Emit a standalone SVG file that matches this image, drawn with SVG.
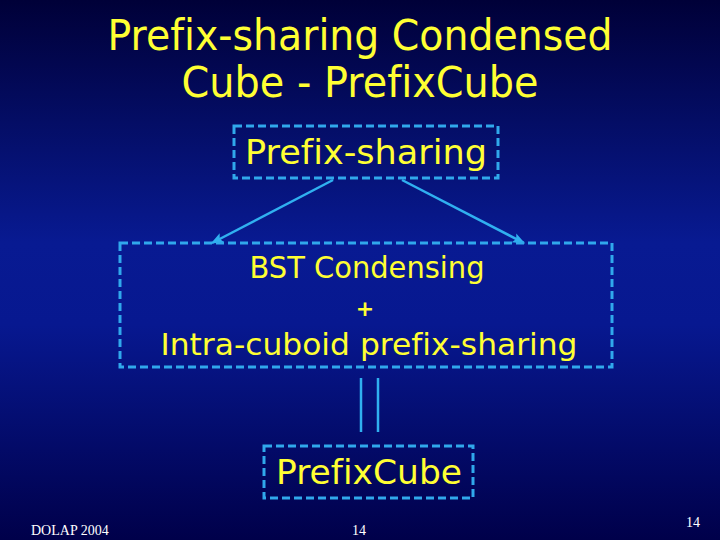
<svg xmlns="http://www.w3.org/2000/svg" width="720" height="540" viewBox="0 0 720 540">
<defs>
<linearGradient id="bg" x1="0" y1="0" x2="0" y2="1">
<stop offset="0" stop-color="#000038"/>
<stop offset="0.45" stop-color="#081a92"/>
<stop offset="0.6" stop-color="#071890"/>
<stop offset="1" stop-color="#00004a"/>
</linearGradient>
<marker id="ah" viewBox="0 0 10 10" refX="9" refY="5" markerWidth="5" markerHeight="5" orient="auto" markerUnits="strokeWidth">
<path d="M0,1 L10,5 L0,9 L2,5 z" fill="#30b0f0"/>
</marker>
<style>
.box{fill:none;stroke:#30a8ec;stroke-width:3;stroke-dasharray:8 4}
.bt{font-family:"DejaVu Sans",sans-serif;fill:#ffff33;text-anchor:middle;font-variant-ligatures:none}
.title{font-family:"DejaVu Sans",sans-serif;fill:#ffff33;font-size:42px;text-anchor:middle;font-variant-ligatures:none}
.conn{stroke:#30b0f0;stroke-width:2.5;fill:none}
.ft{font-family:"Liberation Serif",serif;fill:#ffffff;font-size:14px}
</style>
</defs>
<rect width="720" height="540" fill="url(#bg)"/>
<g id="title">
<text class="title" x="360" y="50" textLength="505" lengthAdjust="spacingAndGlyphs">Prefix-sharing Condensed</text>
<text class="title" x="360" y="97" textLength="357" lengthAdjust="spacingAndGlyphs">Cube - PrefixCube</text>
</g>
<g id="connectors">
<line class="conn" x1="333" y1="180" x2="212" y2="243" marker-end="url(#ah)"/>
<line class="conn" x1="402" y1="180" x2="524" y2="243" marker-end="url(#ah)"/>
<line class="conn" x1="361" y1="378" x2="361" y2="432" stroke-width="3"/>
<line class="conn" x1="378" y1="378" x2="378" y2="432" stroke-width="3"/>
</g>
<g id="node-prefix-sharing">
<rect class="box" x="234" y="126" width="264" height="52"/>
<text class="bt" x="366" y="164" font-size="33" textLength="242" lengthAdjust="spacingAndGlyphs">Prefix-sharing</text>
</g>
<g id="node-bst">
<rect class="box" x="120" y="243" width="492" height="124"/>
<text class="bt" x="367" y="278" font-size="30" textLength="235" lengthAdjust="spacingAndGlyphs">BST Condensing</text>
<text class="bt" x="365" y="316" font-size="22" font-weight="bold">+</text>
<text class="bt" x="369" y="355" font-size="30" textLength="417" lengthAdjust="spacingAndGlyphs">Intra-cuboid prefix-sharing</text>
</g>
<g id="node-prefixcube">
<rect class="box" x="264" y="446" width="209" height="52"/>
<text class="bt" x="369" y="484" font-size="33" textLength="186" lengthAdjust="spacingAndGlyphs">PrefixCube</text>
</g>
<g id="footer">
<text class="ft" x="31" y="535">DOLAP 2004</text>
<text class="ft" x="352" y="535">14</text>
<text class="ft" x="686" y="527">14</text>
</g>
</svg>
